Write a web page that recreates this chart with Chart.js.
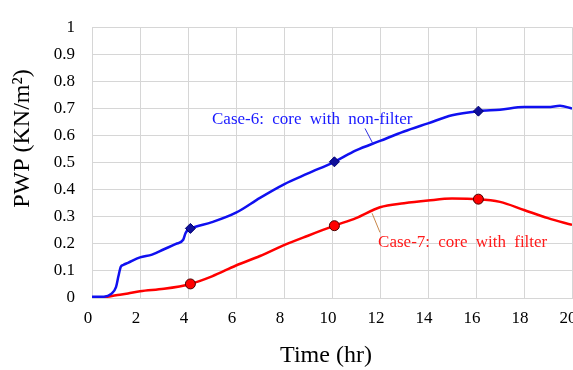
<!DOCTYPE html>
<html>
<head>
<meta charset="utf-8">
<script src="https://cdn.jsdelivr.net/npm/chart.js@4"></script>
<style>
  html, body { margin:0; padding:0; background:#fff; overflow:hidden; }
  #wrap { width:573px; height:370px; overflow:hidden; }
</style>
</head>
<body>
<div id="wrap"><canvas id="pwp" width="600" height="370"></canvas></div>
<script>
// ── DATA ─────────────────────────────────────────
const case6Time = [0, 0.5, 0.8, 1.0, 1.1, 1.2, 1.3, 1.5, 2.0, 2.5, 3.0, 3.5, 3.8, 3.9, 4.0, 4.1, 5.0, 6.0, 7.0, 8.0, 9.0, 10.1, 11.0, 12.0, 13.0, 14.0, 15.0, 16.1, 17.0, 18.0, 19.0, 19.5, 20.0];
const case6PWP  = [0.005, 0.005, 0.015, 0.04, 0.08, 0.115, 0.122, 0.13, 0.15, 0.16, 0.18, 0.2, 0.215, 0.24, 0.252, 0.257, 0.28, 0.315, 0.37, 0.42, 0.46, 0.503, 0.545, 0.58, 0.615, 0.645, 0.675, 0.69, 0.695, 0.705, 0.705, 0.71, 0.7];

const case7Time = [0, 0.5, 1.0, 1.5, 2.0, 3.0, 4.1, 5.0, 6.0, 7.0, 8.0, 9.0, 10.1, 11.0, 12.0, 13.0, 14.0, 15.0, 16.1, 17.0, 18.0, 19.0, 20.0];
const case7PWP  = [0, 0.003, 0.01, 0.017, 0.025, 0.034, 0.052, 0.08, 0.12, 0.155, 0.195, 0.23, 0.267, 0.295, 0.335, 0.35, 0.36, 0.367, 0.365, 0.355, 0.325, 0.295, 0.27];

const markTime   = [4.1, 10.1, 16.1];
const case6Marks = [0.257, 0.503, 0.69];
const case7Marks = [0.052, 0.267, 0.365];

const xTicks = [0, 2, 4, 6, 8, 10, 12, 14, 16, 18, 20];
const yTicks = [0, 0.1, 0.2, 0.3, 0.4, 0.5, 0.6, 0.7, 0.8, 0.9, 1];

const pts = (xs, ys) => xs.map((x, i) => ({ x, y: ys[i] }));
const SERIF = "'Liberation Serif', 'Times New Roman', serif";

// ── LABELS (data coords) ─────────────────────────
const notes = [
  { text: 'Case-6: core with non-filter', color: '#1a1aff', x: 5.0, y: 0.644,
    line: [[11.375, 0.626], [11.71, 0.569]], lineColor: '#3030e0' },
  { text: 'Case-7: core with filter', color: '#ff1a1a', x: 11.92, y: 0.189,
    line: [[11.67, 0.313], [12.0, 0.242]], lineColor: '#c8874a' }
];

const notePlugin = {
  id: 'notes',
  afterDatasetsDraw(chart) {
    const { ctx, scales: { x, y } } = chart;
    ctx.save();
    ctx.font = '17px ' + SERIF;
    if ('wordSpacing' in ctx) ctx.wordSpacing = '4px';
    ctx.textBaseline = 'alphabetic';
    notes.forEach(n => {
      ctx.strokeStyle = n.lineColor;
      ctx.lineWidth = 1;
      ctx.beginPath();
      ctx.moveTo(x.getPixelForValue(n.line[0][0]), y.getPixelForValue(n.line[0][1]));
      ctx.lineTo(x.getPixelForValue(n.line[1][0]), y.getPixelForValue(n.line[1][1]));
      ctx.stroke();
      ctx.fillStyle = n.color;
      ctx.fillText(n.text, x.getPixelForValue(n.x), y.getPixelForValue(n.y));
    });
    ctx.restore();
  }
};

// ── CHART ────────────────────────────────────────
new Chart(document.getElementById('pwp'), {
  type: 'line',
  data: {
    datasets: [
      { data: pts(markTime, case6Marks), showLine: false, pointStyle: 'rectRot', pointRadius: 5,
        backgroundColor: '#10109a', borderColor: '#000070', borderWidth: 1, order: 0 },
      { data: pts(markTime, case7Marks), showLine: false, pointStyle: 'circle', pointRadius: 5,
        backgroundColor: '#ff0000', borderColor: '#4a0000', borderWidth: 1, order: 0 },
      { data: pts(case6Time, case6PWP), borderColor: '#1010f0', borderWidth: 2.5, pointRadius: 0,
        cubicInterpolationMode: 'monotone', order: 1 },
      { data: pts(case7Time, case7PWP), borderColor: '#ff0000', borderWidth: 2.5, pointRadius: 0,
        cubicInterpolationMode: 'monotone', order: 1 }
    ]
  },
  options: {
    responsive: false, animation: false, devicePixelRatio: 1,
    layout: { padding: { top: 17, right: 28, left: 0, bottom: 0 } },
    plugins: { legend: { display: false }, tooltip: { enabled: false } },
    scales: {
      x: {
        type: 'linear', min: 0, max: 20,
        afterBuildTicks: s => { s.ticks = xTicks.map(v => ({ value: v })); },
        afterFit: s => { s.height = 72; },
        ticks: { color: '#000', padding: 10, labelOffset: -4, font: { family: SERIF, size: 17 } },
        grid: { color: '#d6d6d6', lineWidth: 1, drawTicks: false },
        border: { color: '#d6d6d6' },
        title: { display: true, text: 'Time (hr)  ', color: '#000', padding: { top: 0, bottom: 0 },
                 font: { family: SERIF, size: 24 } }
      },
      y: {
        min: 0, max: 1,
        afterBuildTicks: s => { s.ticks = yTicks.map(v => ({ value: v })); },
        afterFit: s => { s.width = 92; },
        ticks: { color: '#000', padding: 17, font: { family: SERIF, size: 17 },
                 callback: v => String(v) },
        grid: { color: '#d6d6d6', lineWidth: 1, drawTicks: false },
        border: { color: '#d6d6d6' },
        title: { display: true, text: '        PWP (KN/m\u00B2)', color: '#000', padding: { top: 8, bottom: 0 },
                 font: { family: SERIF, size: 24 } }
      }
    }
  },
  plugins: [notePlugin]
});
</script>
</body>
</html>
